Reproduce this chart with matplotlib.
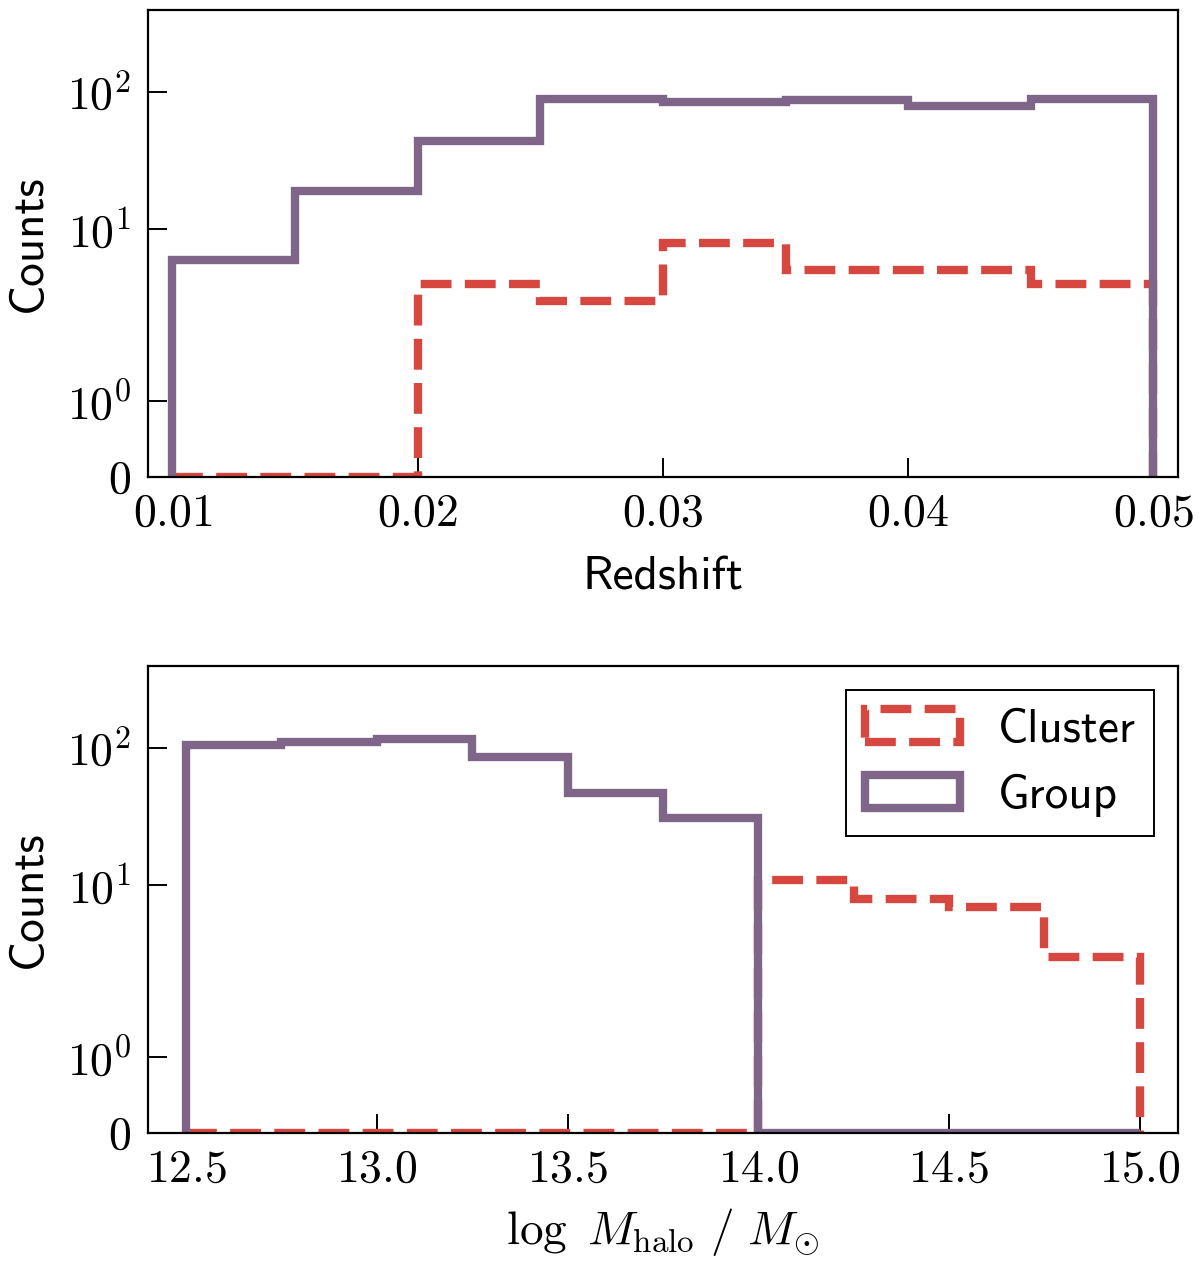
import numpy as np
import matplotlib
matplotlib.use("Agg")
import matplotlib.pyplot as plt

plt.rcParams['font.family'] = 'cmss10'
plt.rcParams['mathtext.fontset'] = 'cm'
plt.rcParams['axes.unicode_minus'] = False

labelsize = 17
ticksize = 16.5
lw = 3.0
c_group = '#7f6587'
c_cluster = '#d64740'

# redshift histogram
z_edges = [0.010, 0.015, 0.020, 0.025, 0.030, 0.035, 0.040, 0.045, 0.050]
z_cluster = [0, 0, 4, 3, 8, 5, 5, 4]
z_group = [6, 19, 44, 89, 85, 88, 79, 89]
z_ticks = [0.01, 0.02, 0.03, 0.04, 0.05]
z_ticklabels = ['$0.01$', '$0.02$', '$0.03$', '$0.04$', '$0.05$']

# halo mass histogram
m_edges = [12.5, 12.75, 13.0, 13.25, 13.5, 13.75, 14.0, 14.25, 14.5, 14.75, 15.0]
m_cluster = [0, 0, 0, 0, 0, 0, 11, 8, 7, 3]
m_group = [106, 111, 118, 86, 47, 31, 0, 0, 0, 0]
m_ticks = [12.5, 13.0, 13.5, 14.0, 14.5, 15.0]
m_ticklabels = ['$12.5$', '$13.0$', '$13.5$', '$14.0$', '$14.5$', '$15.0$']

y_ticks = [0, 1, 10, 100]
y_ticklabels = ['$0$', '$10^0$', '$10^1$', '$10^2$']


def centers(edges):
    e = np.array(edges)
    return 0.5 * (e[:-1] + e[1:])


def style_axis(ax):
    ax.set_yscale('symlog', linthresh=2, linscale=1)
    ax.set_ylim(0, 400)
    ax.set_yticks(y_ticks)
    ax.set_yticklabels(y_ticklabels)
    ax.yaxis.set_minor_locator(matplotlib.ticker.NullLocator())
    ax.xaxis.set_minor_locator(matplotlib.ticker.NullLocator())
    ax.tick_params(which='major', direction='in', length=6.8, width=0.7,
                   labelsize=ticksize, pad=6, top=False, right=False)
    for s in ax.spines.values():
        s.set_linewidth(0.8)
    ax.set_ylabel('Counts', fontsize=labelsize, labelpad=6)


fig = plt.figure(figsize=(6, 6.325), dpi=200)

a1 = fig.add_axes([0.1233, 0.6229, 0.8583, 0.3692])
a1.hist(centers(z_edges), bins=z_edges, weights=z_cluster, histtype='step',
        color=c_cluster, ls='--', lw=lw, label='Cluster')
a1.hist(centers(z_edges), bins=z_edges, weights=z_group, histtype='step',
        color=c_group, lw=lw, label='Group')
style_axis(a1)
a1.set_xlim(0.009, 0.051)
a1.set_xticks(z_ticks)
a1.set_xticklabels(z_ticklabels)
a1.set_xlabel('Redshift', fontsize=labelsize, labelpad=8)

a2 = fig.add_axes([0.1233, 0.1043, 0.8583, 0.3692])
a2.hist(centers(m_edges), bins=m_edges, weights=m_cluster, histtype='step',
        color=c_cluster, ls='--', lw=lw, label='Cluster')
a2.hist(centers(m_edges), bins=m_edges, weights=m_group, histtype='step',
        color=c_group, lw=lw, label='Group')
style_axis(a2)
a2.set_xlim(12.4, 15.1)
a2.set_xticks(m_ticks)
a2.set_xticklabels(m_ticklabels)
a2.set_xlabel(r'$\log\ M_{\rm halo}\ /\ M_{\odot}$', fontsize=labelsize, labelpad=5.5)
leg = a2.legend(loc='upper right', fontsize=labelsize, fancybox=False,
                framealpha=1, edgecolor='black')
leg.get_frame().set_linewidth(0.7)

fig.savefig('out.png', dpi=200)
